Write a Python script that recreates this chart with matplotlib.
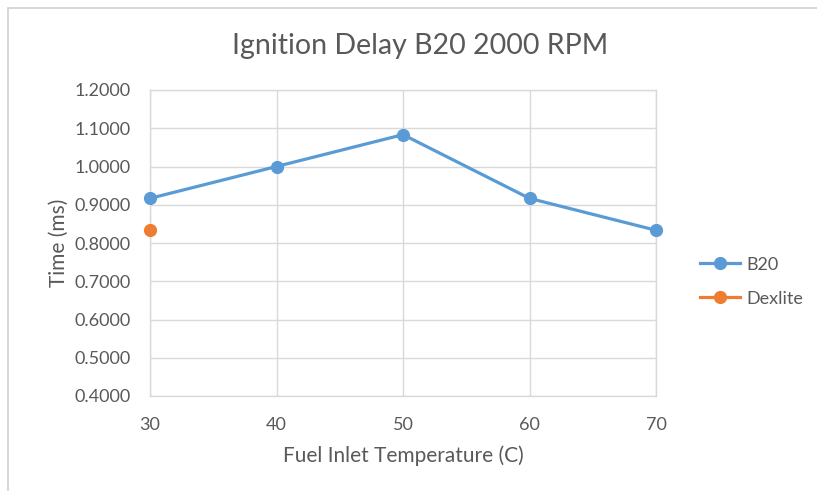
import matplotlib.pyplot as plt
from matplotlib.patches import Rectangle

# Data
temps = [30, 40, 50, 60, 70]
b20_delay = [0.9167, 1.0000, 1.0833, 0.9167, 0.8333]
dexlite_temps = [30]
dexlite_delay = [0.8333]
y_ticks = [0.4, 0.5, 0.6, 0.7, 0.8, 0.9, 1.0, 1.1, 1.2]

blue = '#5B9BD5'
orange = '#ED7D31'
text_gray = '#595959'
grid_gray = '#D9D9D9'

plt.rcParams['font.family'] = ['Lato', 'DejaVu Sans']

fig = plt.figure(figsize=(8.17, 4.91), dpi=100, facecolor='white')

# chart border like an Excel chart frame
fig.patches.append(Rectangle((8 / 817, -0.05), 1.1, 1 - 8 / 491 + 0.05,
                             transform=fig.transFigure, fill=False,
                             edgecolor='#D0D0D0', linewidth=1.2))

ax = fig.add_axes([150 / 817, 1 - 396 / 491, 506 / 817, 306 / 491])

ax.plot(temps, b20_delay, color=blue, linewidth=2.3, marker='o',
        markersize=8.5, label='B20', zorder=3, clip_on=False)
ax.plot(dexlite_temps, dexlite_delay, color=orange, linewidth=2.3, marker='o',
        markersize=8.5, label='Dexlite', zorder=3, clip_on=False)

ax.set_xlim(30, 70)
ax.set_ylim(0.4, 1.2)
ax.set_xticks(temps)
ax.set_yticks(y_ticks)
ax.set_yticklabels([f'{v:.4f}' for v in y_ticks])
ax.tick_params(length=0, labelsize=13, colors=text_gray)
ax.tick_params(axis='y', pad=14)
ax.tick_params(axis='x', pad=15)

ax.grid(True, color=grid_gray, linewidth=1)
ax.set_axisbelow(True)
for s in ax.spines.values():
    s.set_color(grid_gray)
    s.set_linewidth(1)

ax.set_xlabel('Fuel Inlet Temperature (C)', fontsize=15, color=text_gray, labelpad=9)
ax.set_ylabel('Time (ms)', fontsize=15, color=text_gray, labelpad=4)

fig.text(420 / 817, 1 - 46 / 491, 'Ignition Delay B20 2000 RPM', fontsize=20.5,
         color=text_gray, ha='center', va='center')

ax.legend(loc='center left', bbox_to_anchor=(1.055, 0.374), frameon=False,
          fontsize=13, labelcolor=text_gray, handlelength=2.2,
          handletextpad=0.35, labelspacing=1.0)

fig.savefig('out.png', dpi=100, facecolor='white')
